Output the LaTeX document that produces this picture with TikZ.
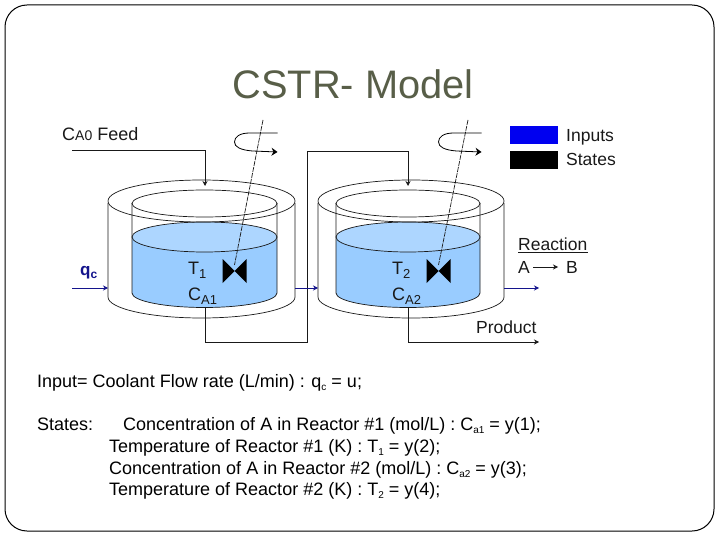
\documentclass[tikz,border=0pt]{standalone}
\usepackage{fontspec}
\setmainfont{Liberation Sans}
\usepackage{xcolor}
\usetikzlibrary{arrows.meta}
\definecolor{dTitle}{RGB}{88,94,72}
\definecolor{dLiquid}{RGB}{153,204,255}
\definecolor{dSurface}{RGB}{173,214,255}
\definecolor{dCoolant}{RGB}{20,20,140}
\definecolor{dInput}{RGB}{0,0,240}
\definecolor{dLine}{RGB}{25,25,25}
\newcommand{\fsize}[1]{\fontsize{#1}{#1}\selectfont}
\newcommand{\lowsub}[1]{\raisebox{-3.5pt}{\fsize{10}#1}}
\newcommand{\labsub}[1]{\raisebox{-4pt}{\fsize{13}#1}}
\tikzset{
  vessel/.style={draw=dLine, line width=0.7pt},
  flow/.style={-{Stealth[length=5pt,width=5pt]}, draw=dLine, line width=0.7pt},
  coolant/.style={-{Stealth[length=5pt,width=5pt]}, draw=dCoolant, line width=0.7pt},
  spin/.style={-{Stealth[length=6pt,width=8pt]}, draw=black, line width=0.8pt},
  shaft/.style={draw=dLine, line width=0.7pt, dash pattern=on 5pt off 1pt},
  lbl/.style={inner sep=0pt, anchor=base west, text=black!90, font=\fsize{17.5}},
  sublbl/.style={lbl, font=\fsize{18}},
  body/.style={inner sep=0pt, anchor=base west, text=black, font=\fsize{18}},
  legendbox/.style={draw=none, minimum width=48pt, minimum height=18pt, inner sep=0pt},
}
% #1 outer centre, #2 outer radius, #3 inner centre, #4 inner radius
\newcommand{\Reactor}[4]{
  \draw[vessel] ({#1-#2},203) -- ({#1-#2},297) arc[start angle=180,end angle=0,x radius=#2,y radius=21] -- ({#1+#2},203);
  \fill[dLiquid] ({#3-#4},237) -- ({#3-#4},293) arc[start angle=180,end angle=0,x radius=#4,y radius=14.5] -- ({#3+#4},237) -- cycle;
  \draw[vessel] ({#3-#4},203) -- ({#3-#4},293) arc[start angle=180,end angle=0,x radius=#4,y radius=14.5] -- ({#3+#4},203);
  \draw[vessel, fill=dSurface] (#3,237) ellipse [x radius=#4,y radius=15];
  \draw[vessel] (#3,203.5) ellipse [x radius=#4,y radius=13.5];
  \draw[vessel] (#1,201) ellipse [x radius=#2,y radius=21];
}
% #1 hub x, #2 shaft top x
\newcommand{\Stirrer}[2]{
  \draw[shaft] (#2,120) -- (#1,265);
  \fill[black] ({#1-12},259) -- ({#1+12},283) -- ({#1+12},259) -- ({#1-12},283) -- cycle;
  \draw[spin] ({#1+43},133) -- ({#1+15},133) .. controls ({#1+5},133) and ({#1},137) .. ({#1},142) .. controls ({#1},147) and ({#1+6},150) .. ({#1+18},151) -- ({#1+43},152);
}
\begin{document}
\begin{tikzpicture}[x=1pt,y=-1pt]
  \useasboundingbox (0,0) rectangle (720,540);
  \draw[black, line width=1pt, rounded corners=22pt] (5,5) rectangle (714,531);

  \node[inner sep=0pt, anchor=base, text=dTitle, font=\fsize{39.8}] (title) at (353,99) {CSTR- Model};

  % reactors
  \Reactor{201.5}{93.5}{204.5}{72.5}
  \Reactor{411}{93}{408}{72}
  \Stirrer{234.5}{263}
  \Stirrer{438.5}{468}

  % free ends of the connectors
  \coordinate (feedin) at (72,150);
  \coordinate (feedcorner) at (205,150);
  \coordinate (feedtip) at (205,186);
  \coordinate (out1) at (205,307);
  \coordinate (out1a) at (205,342);
  \coordinate (out1b) at (307,342);
  \coordinate (out1c) at (307,151);
  \coordinate (out1d) at (408,151);
  \coordinate (feed2tip) at (408,186);
  \coordinate (out2) at (408,307);
  \coordinate (out2a) at (408,342);
  \coordinate (prodtip) at (539,342);
  \coordinate (qcin) at (72,288);
  \coordinate (jac1l) at (108,288);
  \coordinate (jac1r) at (295,288);
  \coordinate (jac2l) at (318,288);
  \coordinate (jac2r) at (504,288);
  \coordinate (qcout) at (539,288);
  \coordinate (rxa) at (533,267);
  \coordinate (rxb) at (558,267);

  % feed and product lines
  \draw[flow] (feedin) -- (feedcorner) -- (feedtip);
  \draw[flow] (out1) -- (out1a) -- (out1b) -- (out1c) -- (out1d) -- (feed2tip);
  \draw[flow] (out2) -- (out2a) -- (prodtip);
  \draw[flow] (rxa) -- (rxb);

  % coolant lines
  \draw[coolant] (qcin) -- (jac1l);
  \draw[coolant] (jac1r) -- (jac2l);
  \draw[coolant] (jac2r) -- (qcout);

  % labels
  \node[lbl, font=\fsize{18}] (feed) at (62,141) {C{\fsize{14}A0} Feed};
  \node[lbl, text=dCoolant, font=\fsize{17}\bfseries] (qc) at (80,275) {q\raisebox{-3pt}{\fsize{12}c}};
  \node[sublbl] (t1) at (188,274) {T\labsub{1}};
  \node[sublbl] (ca1) at (188,300) {C\labsub{A1}};
  \node[sublbl] (t2) at (392,274) {T\labsub{2}};
  \node[sublbl] (ca2) at (392,300) {C\labsub{A2}};
  \node[lbl] (react) at (518,250) {Reaction};
  \draw[draw=dLine, line width=0.7pt] (518,252.5) -- (588,252.5);
  \node[lbl] (rA) at (518,273) {A};
  \node[lbl] (rB) at (566,273) {B};
  \node[lbl] (prod) at (476,333) {Product};

  % legend
  \node[legendbox, fill=dInput] (inbox) at (534,135) {};
  \node[legendbox, fill=black] (stbox) at (534,160) {};
  \node[lbl] (inlbl) at (566,142) {Inputs};
  \node[lbl] (stlbl) at (566,166) {States};

  % text below
  \node[body] (l1) at (37,387) {Input= Coolant Flow rate (L/min) : q\lowsub{c} = u;};
  \node[body] (l2) at (37,430) {States:};
  \node[body] (l3) at (123,430) {Concentration of A in Reactor \#1 (mol/L) : C\lowsub{a1} = y(1);};
  \node[body] (l4) at (109,452) {Temperature of Reactor \#1 (K) : T\lowsub{1} = y(2);};
  \node[body] (l5) at (109,474) {Concentration of A in Reactor \#2 (mol/L) : C\lowsub{a2} = y(3);};
  \node[body] (l6) at (109,495) {Temperature of Reactor \#2 (K) : T\lowsub{2} = y(4);};
\end{tikzpicture}
\end{document}
